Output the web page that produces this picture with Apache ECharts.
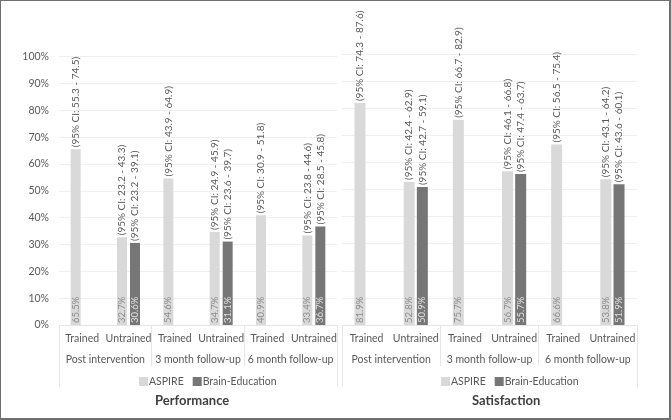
<!DOCTYPE html>
<html>
<head>
<meta charset="utf-8">
<script src="https://cdn.jsdelivr.net/npm/echarts@6/dist/echarts.min.js"></script>
<style>
html,body{margin:0;padding:0;background:#fff;}
#chart{width:671px;height:420px;}
</style>
</head>
<body>
<div id="chart"></div>
<script>
var categories = ["Trained","Untrained","Trained","Untrained","Trained","Untrained"];
var groups = ["Post intervention","3 month follow-up","6 month follow-up"];
var yTicks = [0,10,20,30,40,50,60,70,80,90,100];

var perfAspire = [65.5, 32.7, 54.6, 34.7, 40.9, 33.4];
var perfBrain  = [null, 30.6, null, 31.1, null, 36.7];
var perfAspireCI = ["55.3 - 74.5","23.2 - 43.3","43.9 - 64.9","24.9 - 45.9","30.9 - 51.8","23.8 - 44.6"];
var perfBrainCI  = [null,"23.2 - 39.1",null,"23.6 - 39.7",null,"28.5 - 45.8"];

var satAspire = [81.9, 52.8, 75.7, 56.7, 66.6, 53.8];
var satBrain  = [null, 50.9, null, 55.7, null, 51.9];
var satAspireCI = ["74.3 - 87.6","42.4 - 62.9","66.7 - 82.9","46.1 - 66.8","56.5 - 75.4","43.1 - 64.2"];
var satBrainCI  = [null,"42.7 - 59.1",null,"47.4 - 63.7",null,"43.6 - 60.1"];

var FONT = "Lato, 'Open Sans', sans-serif";
var C_ASPIRE = "#d9d9d9", C_BRAIN = "#767676";
var FAINT = "#e6e6e6", TXT = "#595959";

function catAxes(gi){
  return [
    {gridIndex:gi, type:'category', data:categories, position:'bottom',
     axisLine:{show:true,lineStyle:{color:FAINT}}, axisTick:{show:false},
     axisLabel:{interval:0, margin:8, fontFamily:FONT, fontSize:10.5, color:TXT}},
    {gridIndex:gi, type:'category', data:groups, position:'bottom', offset:41,
     axisLine:{show:false}, axisTick:{show:true, inside:true, length:41, interval:0, lineStyle:{color:FAINT}},
     axisLabel:{interval:0, inside:true, margin:1, fontFamily:FONT, fontSize:10.5, color:TXT}},
    {gridIndex:gi, type:'category', data:[''], position:'bottom', offset:62,
     axisLine:{show:false}, axisTick:{show:true, inside:true, length:62, lineStyle:{color:FAINT}},
     axisLabel:{show:false}},
    {gridIndex:gi, type:'category', data:categories, show:false}
  ];
}

function barSeries(name, xi, yi, data, color, labelColor, bw, gap){
  return {name:name, type:'bar', xAxisIndex:xi, yAxisIndex:yi, data:data,
    barWidth:bw, barGap:gap, itemStyle:{color:color},
    label:{show:true, position:'insideBottom', distance:2, rotate:90, align:'left', verticalAlign:'middle',
      fontFamily:FONT, fontSize:9.5, color:labelColor,
      formatter:function(p){return p.value==null?'':p.value.toFixed(1)+'%';}}};
}
function ciSeries(name, xi, yi, data, ci, bw, gap){
  return {name:name, type:'bar', xAxisIndex:xi, yAxisIndex:yi, data:data, silent:true,
    barWidth:bw, barGap:gap, itemStyle:{color:'rgba(0,0,0,0)'},
    label:{show:true, position:'top', distance:2, rotate:90, align:'left', verticalAlign:'middle',
      fontFamily:FONT, fontSize:10, color:TXT,
      formatter:function(p){var c=ci[p.dataIndex];return c?'(95% CI: '+c+')':'';}}};
}

var option = {
  animation:false,
  backgroundColor:'#ffffff',
  graphic:[{type:'rect', shape:{x:0,y:0,width:670,height:419}, style:{fill:'none', stroke:'#707070', lineWidth:2}, z:100}],
  title:[
    {text:'Performance', left:150, top:389, textStyle:{fontFamily:FONT, fontSize:13, fontWeight:'bold', color:'#404040'}},
    {text:'Satisfaction', left:467, top:389, textStyle:{fontFamily:FONT, fontSize:13, fontWeight:'bold', color:'#404040'}}
  ],
  legend:[
    {data:['ASPIRE','Brain-Education'], left:134, top:371, icon:'rect', itemWidth:9, itemHeight:9, itemGap:9,
     textStyle:{fontFamily:FONT, fontSize:10.5, color:TXT, padding:[0,0,0,-4]}},
    {data:['ASPIRE','Brain-Education'], left:436, top:371, icon:'rect', itemWidth:9, itemHeight:9, itemGap:9,
     textStyle:{fontFamily:FONT, fontSize:10.5, color:TXT, padding:[0,0,0,-4]}}
  ],
  grid:[
    {left:59, width:278, top:56.7, height:268.3},
    {left:342, width:295, top:54, height:271}
  ],
  xAxis: catAxes(0).concat(catAxes(1)),
  yAxis:[
    {gridIndex:0, type:'value', min:yTicks[0], max:yTicks[yTicks.length-1], interval:10,
     axisLine:{show:false}, axisTick:{show:false},
     splitLine:{lineStyle:{color:'#efefef'}},
     axisLabel:{margin:10, fontFamily:FONT, fontSize:10.5, color:TXT, formatter:'{value}%'}},
    {gridIndex:1, type:'value', min:yTicks[0], max:yTicks[yTicks.length-1], interval:10,
     axisLine:{show:false}, axisTick:{show:false},
     splitLine:{lineStyle:{color:'#efefef'}}, axisLabel:{show:false}}
  ],
  series:[
    barSeries('ASPIRE',0,0,perfAspire,C_ASPIRE,'#8c8c8c',10,'30%'),
    barSeries('Brain-Education',0,0,perfBrain,C_BRAIN,'#e0e0e0',10,'30%'),
    ciSeries('ASPIRE CI',3,0,perfAspire,perfAspireCI,10,'30%'),
    ciSeries('Brain CI',3,0,perfBrain,perfBrainCI,10,'30%'),
    barSeries('ASPIRE',4,1,satAspire,C_ASPIRE,'#8c8c8c',11,'20%'),
    barSeries('Brain-Education',4,1,satBrain,C_BRAIN,'#e0e0e0',11,'20%'),
    ciSeries('ASPIRE CI',7,1,satAspire,satAspireCI,11,'20%'),
    ciSeries('Brain CI',7,1,satBrain,satBrainCI,11,'20%')
  ]
};
var chart = echarts.init(document.getElementById('chart'), null, {renderer:'canvas'});
chart.setOption(option);
</script>
</body>
</html>
